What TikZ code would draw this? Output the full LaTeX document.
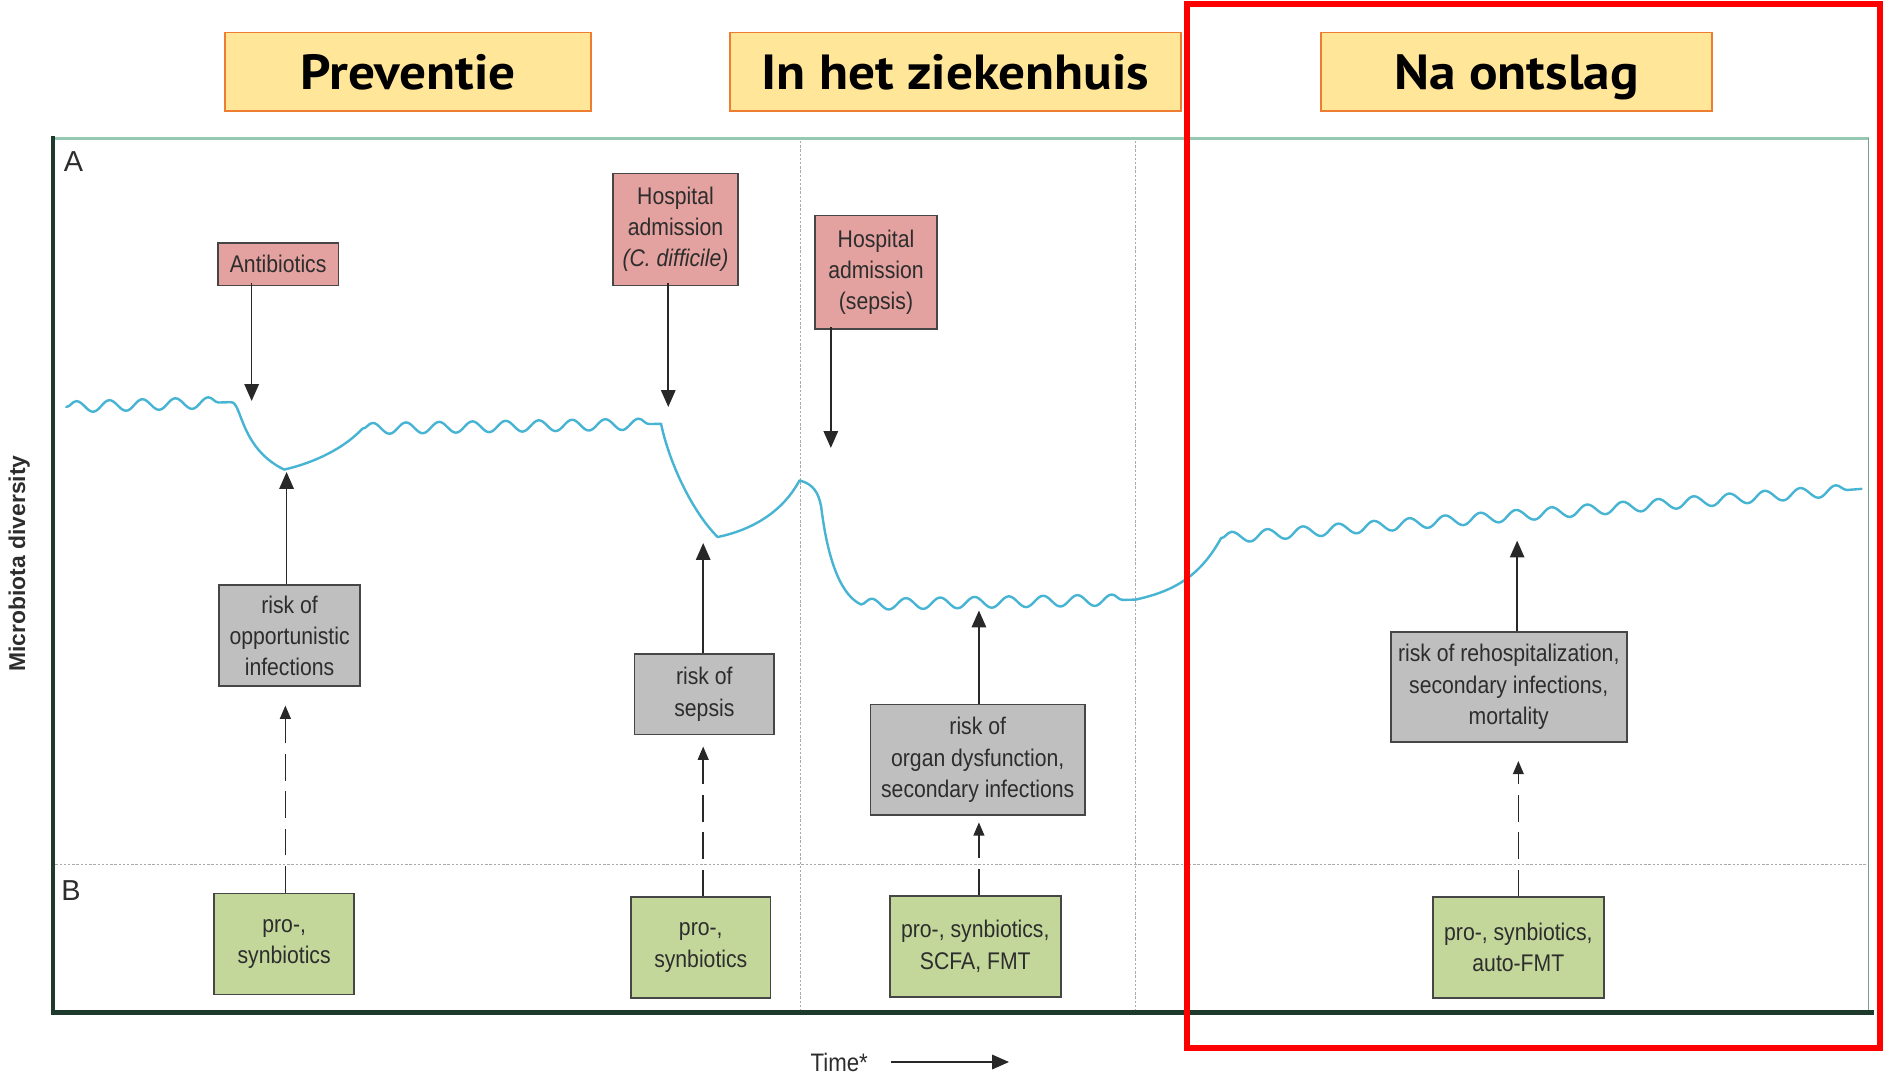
\documentclass[tikz,border=0pt]{standalone}
\usepackage{fontspec}
\setmainfont{Liberation Sans}
\newfontfamily\titlefont[FakeStretch=1.08]{PT Sans}
\newfontfamily\boxfont[FakeStretch=0.88]{Liberation Sans}
\usetikzlibrary{arrows.meta,decorations.pathmorphing}
\definecolor{titlefill}{RGB}{255,230,153}
\definecolor{orangeline}{RGB}{237,125,49}
\definecolor{pinkfill}{RGB}{227,161,159}
\definecolor{grayfill}{RGB}{191,191,191}
\definecolor{greenfill}{RGB}{196,215,155}
\definecolor{boxline}{RGB}{70,70,70}
\definecolor{txt}{RGB}{45,45,45}
\definecolor{curvec}{RGB}{70,180,210}
\definecolor{axisdark}{RGB}{30,58,44}
\definecolor{framegreen}{RGB}{150,200,178}
\definecolor{dotgray}{RGB}{170,170,170}
\definecolor{arrowc}{RGB}{40,40,40}
\begin{document}
\begin{tikzpicture}[x=1pt,y=-1pt,
  titlebox/.style={draw=orangeline, fill=titlefill, line width=1.6pt, inner sep=0pt,
    font=\titlefont\bfseries\fontsize{41}{44}\selectfont, text=black, text height=29pt, text depth=0pt},
  basebox/.style={draw=boxline, line width=1.4pt, inner sep=0pt, align=center,
    font=\boxfont\fontsize{20}{26}\selectfont, text=txt},
  pinkbox/.style={basebox, fill=pinkfill},
  graybox/.style={basebox, fill=grayfill},
  greenbox/.style={basebox, fill=greenfill},
  arr/.style={line width=1.3pt, draw=arrowc, -{Triangle[length=14pt,width=12pt]}},
  darr/.style={line width=1.3pt, draw=arrowc, dash pattern=on 22pt off 9pt, -{Triangle[length=11pt,width=9pt]}},
  curve/.style={draw=curvec, line width=2pt, line cap=round, line join=round},
  wave/.style={decorate, decoration={snake, amplitude=4.6pt, segment length=#1}},
  dotline/.style={draw=dotgray, line width=0.9pt, dash pattern=on 2pt off 1.5pt},
  lbl/.style={inner sep=0pt, text=txt}
]
\useasboundingbox (0,0) rectangle (1568,894);

% frame
\draw[dotline] (46,718) -- (1550,718);
\draw[dotline] (665,117) -- (665,840);
\draw[dotline] (943,117) -- (943,840);
\draw[framegreen, line width=2.2pt] (44,115) -- (1552,115);
\draw[framegreen!80!black, line width=1.2pt] (1552,115) -- (1552,840);
\draw[axisdark, line width=3.5pt] (44,113) -- (44,842);
\draw[axisdark, line width=4pt] (42,841) -- (1556,841);

% labels
\node[lbl, font=\fontsize{24}{26}\selectfont] (labA) at (61,134) {A};
\node[lbl, font=\fontsize{24}{26}\selectfont] (labB) at (59,740) {B};
\node[lbl, font=\bfseries\fontsize{19}{22}\selectfont, rotate=90] (ylab) at (16,468) {Microbiota diversity};
\node[lbl, font=\boxfont\fontsize{21}{22}\selectfont] (timelab) at (697,882) {Time*};
\coordinate (timestart) at (740,882);
\coordinate (timeend) at (838,882);
\draw[arr] (timestart) -- (timeend);

% title boxes
\node[titlebox, minimum width=304pt, minimum height=65pt] (t1) at (339,59.5) {Preventie};
\node[titlebox, minimum width=375pt, minimum height=65pt] (t2) at (793.5,59.5) {In het ziekenhuis};
\node[titlebox, minimum width=325pt, minimum height=65pt] (t3) at (1259.5,59.5) {Na ontslag};

% curve
\draw[curve, wave=27.4pt] (55,338) -- (192,334);
\draw[curve] (192,334) .. controls (201,334) and (199,372) .. (236,390)
  .. controls (262,384) and (286,372) .. (301,356);
\draw[curve, wave=27.6pt] (301,356) -- (549,352);
\draw[curve] (549,352) .. controls (556,385) and (575,425) .. (596,446)
  .. controls (625,440) and (650,425) .. (664,399)
  .. controls (676,402) and (680,410) .. (682,421)
  .. controls (688,470) and (700,495) .. (715,502);
\draw[curve, wave=28.5pt] (715,502) -- (943,498);
\draw[curve] (943,498) .. controls (970,492) and (995,482) .. (1014,447);
\draw[curve, wave=29.6pt] (1014,447) -- (1546,406);

% event boxes
\node[pinkbox, minimum width=100pt, minimum height=35pt] (ab) at (231,219.5) {Antibiotics};
\node[pinkbox, minimum width=104pt, minimum height=93pt] (cd) at (561,190.5) {Hospital\\admission\\\textit{(C. difficile)}};
\node[pinkbox, minimum width=101pt, minimum height=94pt] (sp) at (727.5,226) {Hospital\\admission\\(sepsis)};

% risk boxes
\node[graybox, minimum width=117pt, minimum height=84pt] (r1) at (240.5,528) {risk of\\opportunistic\\infections};
\node[graybox, minimum width=116pt, minimum height=67pt] (r2) at (585,576.5) {risk of\\sepsis};
\node[graybox, minimum width=178pt, minimum height=92pt] (r3) at (812,631) {risk of\\organ dysfunction,\\secondary infections};
\node[graybox, minimum width=196pt, minimum height=91pt] (r4) at (1253,570.5) {risk of rehospitalization,\\secondary infections,\\mortality};

% treatment boxes
\node[greenbox, minimum width=116pt, minimum height=84pt] (g1) at (236,784) {pro-,\\synbiotics};
\node[greenbox, minimum width=116pt, minimum height=84pt] (g2) at (582,787) {pro-,\\synbiotics};
\node[greenbox, minimum width=142pt, minimum height=84pt] (g3) at (810,786) {pro-, synbiotics,\\SCFA, FMT};
\node[greenbox, minimum width=142pt, minimum height=84pt] (g4) at (1261,787) {pro-, synbiotics,\\auto-FMT};

% arrow end points
\coordinate (dA) at (209,333);
\coordinate (dC) at (555,338);
\coordinate (dS) at (690,372);
\coordinate (u1) at (238,392);
\coordinate (u2) at (584,451);
\coordinate (u3) at (813,507);
\coordinate (u4) at (1260,449);
\coordinate (v1) at (237,586);
\coordinate (v2) at (584,620);
\coordinate (v3) at (813,683);
\coordinate (v4) at (1261,632);

% down arrows
\draw[arr] ([xshift=-22pt,yshift=3pt]ab.south) -- (dA);
\draw[arr] ([xshift=-6pt,yshift=3pt]cd.south) -- (dC);
\draw[arr] ([xshift=-37.5pt,yshift=2pt]sp.south) -- (dS);

% solid up arrows
\draw[arr] ([xshift=-2.5pt]r1.north) -- (u1);
\draw[arr] ([xshift=-1pt]r2.north) -- (u2);
\draw[arr] ([xshift=1pt]r3.north) -- (u3);
\draw[arr] ([xshift=7pt]r4.north) -- (u4);

% dashed up arrows
\draw[darr] ([xshift=1pt]g1.north) -- (v1);
\draw[darr] ([xshift=2pt]g2.north) -- (v2);
\draw[darr] ([xshift=3pt]g3.north) -- (v3);
\draw[darr] (g4.north) -- (v4);

% red highlight
\draw[red, line width=5pt] (986,3) rectangle (1561,870);
\end{tikzpicture}
\end{document}
